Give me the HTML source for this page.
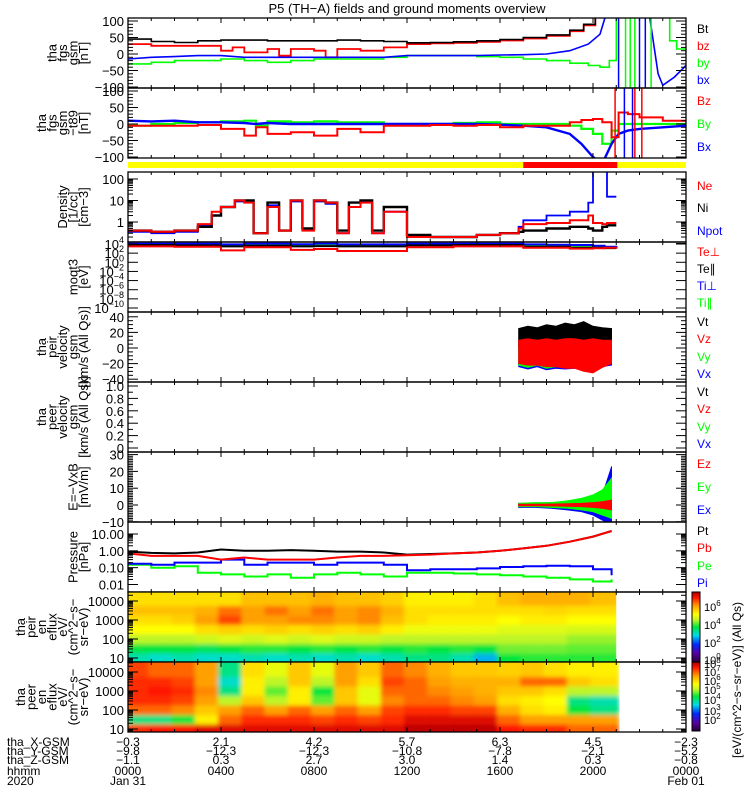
<!DOCTYPE html>
<html><head><meta charset="utf-8">
<style>
html,body{margin:0;padding:0;background:#fff;}
svg{display:block;font-family:"Liberation Sans",sans-serif;}
</style></head>
<body>
<svg id="chart" width="750" height="800" viewBox="0 0 750 800" xmlns="http://www.w3.org/2000/svg">
<defs>
<filter id="blur" x="0" y="0" width="1" height="1"><feGaussianBlur stdDeviation="2.2"/></filter>
</defs>
<text x="407" y="13" font-size="13" text-anchor="middle">P5 (TH−A) fields and ground moments overview</text>
</svg>
<script>
// ---------- data ----------
// panel 1: fgs gsm (nT)
const p1BtT = [0,1,2,3,4,5,6,7,8,9,10,11,12,13,14,15,16,17,18,19,19.6,20.1];
const p1Bt  = [45,38,35,40,42,42,40,40,40,42,40,38,34,35,37,40,44,50,58,72,90,130];
const p1BzT = [0,1,2,3,4,4.5,5,6,6.5,7,8,8.5,9,10,11,12,13,14,15,16,17,18,19,19.6,20.1];
const p1Bz  = [30,25,25,25,10,20,5,15,-5,15,10,-10,15,10,20,30,32,34,37,41,47,55,69,87,125];
const p1ByT = [0,1,2,3,4,5,6,7,8,9,10,11,12,13,14,15,16,17,18,19,19.8,20.3,20.7,21.0,22.9,23.3,23.6,24];
const p1By  = [-30,-25,-20,-20,-15,-20,-25,-20,-15,-15,-15,-10,-5,-5,-5,-8,-10,-15,-20,-28,-35,-40,-20,130,110,40,15,2];
const p1BxT = [0,1,2,3,4,5,6,7,8,9,10,11,12,13,14,15,16,17,18,19,19.8,20.3,20.6,21.6,22.4,22.8,23.0,23.5,24];
const p1Bx  = [-15,-10,-8,-5,-5,-10,-10,-10,-10,-10,-10,-10,-5,-5,-5,-5,-3,-2,0,10,30,60,130,130,130,-60,-95,-70,-35];
// panel 2: fgs gsm - t89 (nT)
const p2T  = [0,1,2,3,4,5,5.5,6,7,8,9,10,11,12,13,14,15,16,17,18,19,19.5,20,20.4,20.8,21.1,21.5,22,23,24];
const p2Bz = [-5,-5,-5,-3,-15,-35,-10,-30,-25,-35,-15,-25,-5,-5,-3,-5,-3,-10,-5,-5,5,12,15,5,-40,35,30,20,10,5];
const p2By = [-5,0,3,5,8,10,-5,8,5,8,5,5,0,0,0,3,5,0,0,0,-5,-15,-30,-60,-20,0,0,0,0,2];
const p2Bx = [10,8,10,5,5,3,0,3,0,0,0,0,0,0,0,0,0,-2,-5,-10,-30,-60,-100,-120,-60,-30,-20,-15,-10,-5];
// panel 3: density (1/cc)
const p3T  = [0,1,2,3,3.6,4,4.6,5,5.4,6,6.5,7,7.5,8,8.5,9,9.5,10,10.5,11,12,13,14,15,16,16.8,17,18,19,19.8,20,20.4,20.6,21];
const p3Ni = [0.4,0.35,0.4,0.6,2,5,10,10,0.3,8,0.4,10,0.5,10,8,0.4,8,10,0.4,5,0.25,0.2,0.2,0.25,0.3,0.35,0.4,0.5,0.6,0.5,0.4,0.6,0.7,0.7];
const p3Ne = [0.4,0.35,0.4,0.8,3,5,10,8,0.3,5,0.4,10,0.4,10,8,0.3,5,8,0.3,3,0.2,0.2,0.2,0.25,0.3,0.5,0.8,0.9,1.2,2,0.9,0.8,0.9,0.9];
const p3Np = [0.35,0.3,0.35,0.7,2,5,9,8,0.3,6,0.4,9,0.4,9,7,0.3,5,8,0.3,3,0.2,0.2,0.2,0.25,0.3,0.6,1.2,2,3,8,300,300,15,15];
// panel 4: temperatures (eV)
const p4T   = [0,2,4,5,7,8,9,11,12,14,16,17,18,19,20,20.5,21];
const p4Tep = [3000,2500,400,2000,500,800,300,300,2000,3000,3000,1500,1500,1000,1200,1500,1000];
const p4Tep2= [6000,5000,3000,4000,3000,3500,3000,3000,5000,6000,6000,2500,2500,1500,1500,1300,1000];
const p4Tip = [12000,12000,8000,12000,9000,12000,8000,8000,12000,12000,12000,8000,7000,6000,4000,2500,1500];
const p4Tip2= [9000,9000,6000,9000,7000,9000,6000,6000,9000,9000,9000,5000,5000,4000,3000,2000,1500];
// panel 5: velocity bands (km/s)
const p5T    = [16.8,17.2,17.6,18,18.4,18.8,19.2,19.6,20,20.4,20.8];
const p5VtHi = [25,28,26,30,28,32,30,34,28,26,25];
const p5VtLo = [0,0,0,0,0,0,0,0,0,0,0];
const p5VzHi = [10,12,10,12,10,12,12,10,12,10,10];
const p5VzLo = [-20,-22,-22,-24,-24,-26,-26,-30,-32,-25,-20];
const p5VyLo = [-22,-25,-22,-26,-24,-25,-24,-26,-24,-22,-20];
// panel 7: E field (mV/m)
const p7T    = [16.8,17.5,18.2,18.9,19.5,20.0,20.4,20.8];
const p7EyHi = [1,1.5,1.5,2.5,4,6,9,16];
const p7EyLo = [-1,-1,-1.5,-2,-3,-4,-6,-8];
const p7ExHi = [1,1,1.5,2,3,4,6,23];
const p7ExLo = [-1.5,-1.5,-2,-3,-4,-6,-9,-12];
const p7EzHi = [0.5,0.5,0.6,0.8,1,1.5,2,3];
const p7EzLo = [-0.5,-0.5,-0.6,-0.8,-1,-1.5,-2,-3];
// panel 8: pressure (nPa)
const p8T  = [0,1,2,3,4,5,6,7,8,9,10,11,12,13,14,15,16,17,18,19,20,20.8];
const p8Pt = [0.9,0.75,0.7,0.8,1.2,1.0,1.0,1.1,1.0,0.9,0.9,0.8,0.6,0.65,0.7,0.8,1.0,1.4,2,3.5,7,15];
const p8Pb = [0.7,0.5,0.5,0.5,0.3,0.4,0.3,0.3,0.3,0.4,0.5,0.5,0.55,0.6,0.7,0.8,1.0,1.4,2,3.5,7,15];
const p8Pi = [0.17,0.15,0.2,0.2,0.3,0.15,0.2,0.2,0.15,0.2,0.2,0.15,0.07,0.08,0.08,0.09,0.11,0.12,0.13,0.12,0.08,0.035];
const p8Pe = [0.15,0.1,0.12,0.05,0.04,0.03,0.04,0.025,0.04,0.05,0.04,0.03,0.05,0.05,0.045,0.04,0.035,0.03,0.025,0.02,0.015,0.02];
// spectrograms: energy rows (eV), hourly columns, normalized colour level 0..1
const specE = [10,30,100,300,1000,3000,10000];
const specIonT = [0,1,2,3,4,5,6,7,8,9,10,11,12,13,14,15,16,17,18,19,20];
const specIon = [
 [0.42,0.5,0.6,0.68,0.72,0.76,0.72],[0.4,0.5,0.6,0.68,0.72,0.76,0.72],[0.42,0.5,0.6,0.68,0.74,0.76,0.72],[0.4,0.48,0.62,0.72,0.8,0.78,0.72],
 [0.4,0.5,0.64,0.74,0.88,0.84,0.72],[0.42,0.52,0.62,0.72,0.8,0.8,0.76],[0.4,0.52,0.64,0.74,0.8,0.84,0.76],[0.42,0.5,0.62,0.72,0.82,0.8,0.76],
 [0.4,0.52,0.64,0.74,0.82,0.84,0.78],[0.42,0.5,0.62,0.72,0.8,0.8,0.76],[0.4,0.52,0.62,0.74,0.82,0.82,0.76],[0.42,0.5,0.6,0.7,0.76,0.78,0.74],
 [0.45,0.52,0.6,0.66,0.72,0.72,0.7],[0.45,0.5,0.6,0.66,0.7,0.72,0.7],[0.42,0.52,0.6,0.66,0.7,0.72,0.7],[0.35,0.5,0.6,0.66,0.7,0.72,0.72],
 [0.5,0.56,0.6,0.64,0.68,0.72,0.76],[0.52,0.56,0.6,0.64,0.7,0.72,0.78],[0.52,0.56,0.6,0.64,0.7,0.73,0.78],[0.52,0.55,0.58,0.63,0.68,0.72,0.78],[0.52,0.55,0.58,0.63,0.68,0.72,0.76]];
const specEleT = [0,1,2,3,4,5,6,7,8,9,10,11,12,13,14,15,16,17,18,19,20];
const specEle = [
 [0.9,0.45,0.85,0.9,0.9,0.9,0.88],[0.92,0.45,0.85,0.9,0.92,0.9,0.85],[0.92,0.5,0.82,0.88,0.9,0.88,0.85],[0.95,0.7,0.75,0.8,0.82,0.8,0.8],
 [0.95,0.85,0.8,0.6,0.45,0.4,0.45],[0.95,0.9,0.85,0.75,0.7,0.7,0.72],[0.95,0.9,0.8,0.6,0.55,0.6,0.65],[0.95,0.9,0.85,0.7,0.7,0.75,0.75],
 [0.95,0.88,0.8,0.55,0.5,0.6,0.65],[0.95,0.9,0.85,0.75,0.75,0.8,0.8],[0.95,0.88,0.8,0.65,0.65,0.72,0.75],[0.95,0.9,0.88,0.82,0.85,0.88,0.85],
 [0.98,0.95,0.9,0.85,0.85,0.85,0.82],[0.98,0.95,0.9,0.85,0.82,0.8,0.78],[0.98,0.95,0.88,0.82,0.8,0.78,0.75],[0.98,0.95,0.88,0.8,0.78,0.78,0.75],
 [0.92,0.85,0.78,0.72,0.75,0.78,0.74],[0.9,0.8,0.72,0.7,0.75,0.85,0.75],[0.9,0.8,0.7,0.68,0.72,0.85,0.72],[0.85,0.8,0.5,0.45,0.6,0.75,0.7],[0.85,0.8,0.45,0.42,0.6,0.72,0.7]];
// axis tick labels
const xTickHours = [0,4,8,12,16,20,24];
const xRowX = ["-0.3","2.1","4.2","5.7","6.3","4.5","-2.3"];
const xRowY = ["-9.8","-12.3","-12.3","-10.8","-7.8","-2.1","-5.2"];
const xRowZ = ["-1.1","0.3","2.7","3.0","1.4","0.3","-0.8"];
const xRowH = ["0000","0400","0800","1200","1600","2000","0000"];

// ---------- helpers ----------
const svg = document.getElementById('chart');
const NS = 'http://www.w3.org/2000/svg';
const X0 = 128, X1 = 686;
function xs(h){ return X0 + (X1 - X0) * h / 24; }
function mk(tag, attrs, parent){
  const e = document.createElementNS(NS, tag);
  for (const k in attrs) e.setAttribute(k, attrs[k]);
  (parent || svg).appendChild(e);
  return e;
}
function logs(top, bottom, lTop, lBot){ return v => top + (lTop - Math.log10(v)) / (lTop - lBot) * (bottom - top); }
let clipN = 0;
function clipFor(top, bottom){
  const id = 'c' + (clipN++);
  const cp = mk('clipPath', {id: id}, svg.querySelector('defs'));
  mk('rect', {x: X0, y: top, width: X1 - X0, height: bottom - top}, cp);
  return 'url(#' + id + ')';
}
function line(ts, vs, ys, color, clip, name, w, step){
  let d = '';
  ts.forEach((t, i) => {
    const x = xs(t).toFixed(1), y = ys(vs[i]).toFixed(1);
    if (!i) d += 'M' + x + ' ' + y;
    else if (step) d += 'H' + x + 'V' + y;
    else d += 'L' + x + ' ' + y;
  });
  const p = mk('path', {d: d, fill: 'none', stroke: color, 'stroke-width': w || 1.6, 'clip-path': clip});
  
  
  return p;
}
function band(ts, hi, lo, ys, color, clip, name){
  let d = '';
  ts.forEach((t, i) => { d += (i ? 'L' : 'M') + xs(t).toFixed(1) + ' ' + ys(hi[i]).toFixed(1); });
  for (let i = ts.length - 1; i >= 0; i--) d += 'L' + xs(ts[i]).toFixed(1) + ' ' + ys(lo[i]).toFixed(1);
  const p = mk('path', {d: d + 'Z', fill: color, stroke: color, 'stroke-width': 0.8, 'clip-path': clip});
  
  
}
function frame(top, bottom, name){
  const r = mk('rect', {x: X0, y: top, width: X1 - X0, height: bottom - top, fill: 'none', stroke: '#000', 'stroke-width': 1.3});
  
  
  for (let h = 1; h < 24; h++) {
    const len = (h % 4 === 0) ? 5 : 3;
    mk('line', {x1: xs(h), x2: xs(h), y1: top, y2: top + len, stroke: '#000'});
    mk('line', {x1: xs(h), x2: xs(h), y1: bottom, y2: bottom - len, stroke: '#000'});
  }
}
function ytick(y, label, major){
  const len = major ? 10 : 5;
  mk('line', {x1: X0, x2: X0 + len, y1: y, y2: y, stroke: '#000'});
  mk('line', {x1: X1, x2: X1 - len, y1: y, y2: y, stroke: '#000'});
  if (label !== null && label !== undefined) {
    const t = mk('text', {x: X0 - 4, y: y + 5, 'font-size': 13, 'text-anchor': 'end'});
    
    
    t.innerHTML = label;
  }
}
function linTicks(ys, lo, hi, step, minor){
  for (let v = lo; v <= hi + 1e-9; v += minor) {
    const isMaj = Math.abs(Math.round(v / step) * step - v) < 1e-6;
    ytick(ys(v), isMaj ? (Math.abs(v) < 1e-9 ? '0' : (step < 1 ? v.toFixed(1) : String(Math.round(v))).replace('-', '−')) : null, isMaj);
  }
}
function logTicks(ys, dLo, dHi, labels){
  for (let d = dLo; d <= dHi; d++) {
    ytick(ys(Math.pow(10, d)), labels ? labels(d) : null, true);
    for (let m = 2; m <= 9 && d < dHi; m++) ytick(ys(m * Math.pow(10, d)), null, false);
  }
}
function leftLabel(lines, top, bottom, name){
  const g = mk('g', {});
  
  
  const cy = (top + bottom) / 2, n = lines.length;
  lines.forEach((s, i) => {
    const bx = 88 - (n - 1 - i) * 10.5;
    const t = mk('text', {x: 0, y: 0, 'font-size': 13, 'text-anchor': 'middle', transform: 'translate(' + bx + ',' + cy + ') rotate(-90)'}, g);
    t.textContent = s;
  });
}
function legend(items){
  items.forEach(it => {
    const t = mk('text', {x: 697, y: it[2] + 5, 'font-size': 12, fill: it[1]});
    
    
    t.textContent = it[0];
  });
}
const R = '#ff0000', G = '#00ff00', B = '#0000ff', K = '#000000';

// ---------- panel 1 ----------
{
  const top = 18, bot = 88, ys = v => 54 - v * 0.33, c = clipFor(top, bot);
  line(p1BzT, p1Bz, ys, R, c, 'series-bz', 1.8, true);
  line(p1BtT, p1Bt, ys, K, c, 'series-bt', 1.6, true);
  line(p1ByT, p1By, ys, G, c, 'series-by', 1.6, true);
  line(p1BxT, p1Bx, ys, B, c, 'series-bx', 1.6);
  [[21.4,G],[21.6,G],[21.8,G],[21.1,B],[22.0,B],[22.25,B],[22.5,G]].forEach(s => {
    const l = mk('line', {x1: xs(s[0]), x2: xs(s[0]), y1: top, y2: bot, stroke: s[1], 'stroke-width': 1.5});
     
  });
  frame(top, bot, 'panel-fgs-gsm');
  linTicks(ys, -100, 100, 50, 10);
  leftLabel(['tha','fgs','gsm','[nT]'], top, bot, 'y-axis-title-fgs');
  legend([['Bt',K,28],['bz',R,45],['by',G,62],['bx',B,79]]);
}
// ---------- panel 2 ----------
{
  const top = 88, bot = 158, ys = v => 124 - v * 0.33, c = clipFor(top, bot);
  line(p2T, p2By, ys, G, c, 'series-by-t89', 2.2, true);
  line(p2T, p2Bx, ys, B, c, 'series-bx-t89', 2.4);
  line(p2T, p2Bz, ys, R, c, 'series-bz-t89', 2, true);
  [[20.95,R],[21.35,B],[21.7,B],[21.8,R],[22.1,R]].forEach(s => {
    const l = mk('line', {x1: xs(s[0]), x2: xs(s[0]), y1: top, y2: bot, stroke: s[1], 'stroke-width': 1.5});
     
  });
  frame(top, bot, 'panel-fgs-t89');
  linTicks(ys, -100, 100, 50, 10);
  leftLabel(['tha','fgs','gsm','−t89','[nT]'], top, bot, 'y-axis-title-t89');
  legend([['Bz',R,100],['By',G,123],['Bx',B,146]]);
}
// ---------- mode bar ----------
{
  const b1 = mk('rect', {x: X0, y: 162, width: xs(17) - X0, height: 6, fill: '#ffff00'});
   
  const b2 = mk('rect', {x: xs(17), y: 162, width: xs(21.05) - xs(17), height: 6, fill: '#ff0000'});
   
  const b3 = mk('rect', {x: xs(21.05), y: 162, width: X1 - xs(21.05), height: 6, fill: '#ffff00'});
   
}
// ---------- panel 3 ----------
{
  const top = 172, bot = 242, ys = logs(179, 243.5, 2, -1), c = clipFor(top, bot);
  line(p3T, p3Np, ys, B, c, 'series-npot', 1.8, true);
  line(p3T, p3Ni, ys, K, c, 'series-ni', 2.4, true);
  line(p3T, p3Ne, ys, R, c, 'series-ne', 2, true);
  frame(top, bot, 'panel-density');
  logTicks(ys, -1, 2, d => d >= 0 ? String(Math.pow(10, d)) : null);
  leftLabel(['Density','[1/cc]','[cm−3]'], top, bot, 'y-axis-title-density');
  legend([['Ne',R,185],['Ni',K,207],['Npot',B,230]]);
}
// ---------- panel 4 ----------
{
  const top = 242, bot = 312, ys = logs(244, 308, 4, -10), c = clipFor(top, bot);
  line(p4T, p4Tip2, ys, G, c, 'series-ti-par', 2, true);
  line(p4T, p4Tip, ys, B, c, 'series-ti-perp', 2, true);
  line(p4T, p4Tep2, ys, K, c, 'series-te-par', 2, true);
  line(p4T, p4Tep, ys, R, c, 'series-te-perp', 2, true);
  frame(top, bot, 'panel-temperature');
  for (let d = -10; d <= 4; d += 2) ytick(ys(Math.pow(10, d)), '10<tspan font-size="9" dy="-6">' + String(d).replace('-', '−') + '</tspan>', true);
  leftLabel(['moqt3','[eV]'], top, bot, 'y-axis-title-temp');
  legend([['Te⊥',R,251],['Te∥',K,268],['Ti⊥',B,285],['Ti∥',G,302]]);
}
// ---------- panel 5 ----------
{
  const top = 312, bot = 382, ys = v => 348 - v * 0.78, c = clipFor(top, bot);
  band(p5T, p5VzHi, p5VyLo.map(v => v - 2), ys, B, c, 'series-vx-band');
  band(p5T, p5VzHi, p5VyLo, ys, G, c, 'series-vy-band');
  band(p5T, p5VtHi, p5VtLo, ys, K, c, 'series-vt-band');
  band(p5T, p5VzHi, p5VzLo, ys, R, c, 'series-vz-band');
  frame(top, bot, 'panel-ion-velocity');
  linTicks(ys, -40, 40, 20, 5);
  leftLabel(['tha','peir','velocity','gsm','[km/s (All Qs)]'], top, bot, 'y-axis-title-ion-velocity');
  legend([['Vt',K,321],['Vz',R,338],['Vy',G,356],['Vx',B,373]]);
}
// ---------- panel 6 ----------
{
  const top = 382, bot = 452, ys = v => 448 - v * 62;
  frame(top, bot, 'panel-electron-velocity');
  linTicks(ys, 0, 1.0, 0.2, 0.1);
  leftLabel(['tha','peer','velocity','gsm','[km/s (All Qs)]'], top, bot, 'y-axis-title-electron-velocity');
  legend([['Vt',K,391],['Vz',R,408],['Vy',G,426],['Vx',B,443]]);
}
// ---------- panel 7 ----------
{
  const top = 452, bot = 522, ys = v => 505 - v * 1.68, c = clipFor(top, bot);
  band(p7T, p7ExHi, p7ExLo, ys, B, c, 'series-ex-band');
  band(p7T, p7EyHi, p7EyLo, ys, G, c, 'series-ey-band');
  band(p7T, p7EzHi, p7EzLo, ys, R, c, 'series-ez-band');
  frame(top, bot, 'panel-efield');
  linTicks(ys, -10, 30, 10, 1);
  leftLabel(['E=−VxB','[mV/m]'], top, bot, 'y-axis-title-efield');
  legend([['Ez',R,463],['Ey',G,486],['Ex',B,509]]);
}
// ---------- panel 8 ----------
{
  const top = 522, bot = 592, ys = logs(534, 584.5, 1, -2), c = clipFor(top, bot);
  line(p8T, p8Pe, ys, G, c, 'series-pe', 2, true);
  line(p8T, p8Pi, ys, B, c, 'series-pi', 2, true);
  line(p8T, p8Pt, ys, K, c, 'series-pt', 2);
  line(p8T, p8Pb, ys, R, c, 'series-pb', 2);
  frame(top, bot, 'panel-pressure');
  logTicks(ys, -2, 1, d => Math.pow(10, d).toFixed(2));
  leftLabel(['Pressure','[nPa]'], top, bot, 'y-axis-title-pressure');
  legend([['Pt',K,530],['Pb',R,547],['Pe',G,565],['Pi',B,582]]);
}
// ---------- spectrograms ----------
const cstops = [[0,[40,0,60]],[0.12,[90,0,160]],[0.25,[0,40,255]],[0.38,[0,220,230]],[0.5,[0,230,60]],[0.6,[190,245,40]],[0.68,[255,255,0]],[0.8,[255,160,0]],[0.92,[255,20,0]],[1,[170,0,0]]];
function cmap(v){
  v = Math.max(0, Math.min(1, v));
  for (let i = 1; i < cstops.length; i++) if (v <= cstops[i][0]) {
    const a = cstops[i-1], b = cstops[i], f = (v - a[0]) / (b[0] - a[0]);
    return 'rgb(' + a[1].map((c, k) => Math.round(c + (b[1][k] - c) * f)).join(',') + ')';
  }
  return 'rgb(170,0,0)';
}
function spectro(times, vals, top, bot, y10, y10k, name, tEnd){
  const ys = v => y10 - (Math.log10(v) - 1) * (y10 - y10k) / 3;
  const g = mk('g', {});
  
  
  const lim = mk('clipPath', {id: name + '-lim'}, svg.querySelector('defs'));
  mk('rect', {x: X0, y: top, width: xs(tEnd) - X0, height: bot - top}, lim);
  g.setAttribute('clip-path', 'url(#' + name + '-lim)');
  const inner = mk('g', {filter: 'url(#blur)'}, g);
  times.forEach((t, i) => {
    vals[i].forEach((v, j) => {
      const e = specE[j];
      const eHi = j < specE.length - 1 ? Math.sqrt(e * specE[j+1]) : 1e6;
      const eLo = j > 0 ? Math.sqrt(e * specE[j-1]) : 1;
      const x1 = xs(t) - 3, x2 = xs(t + 1) + 3;
      const cell = mk('rect', {x: x1, y: ys(eHi), width: x2 - x1, height: ys(eLo) - ys(eHi), fill: cmap(v)}, inner);
      
      
    });
  });
  frame(top, bot, name + '-frame');
  for (let d = 1; d <= 4; d++) {
    ytick(ys(Math.pow(10, d)), String(Math.pow(10, d)), true);
    for (let m = 2; m <= 9 && d < 4; m++) ytick(ys(m * Math.pow(10, d)), null, false);
  }
  for (let m = 5; m <= 9; m++) if (ys(m) < bot) ytick(ys(m), null, false);
  ytick(ys(20000), null, false); ytick(ys(30000), null, false);
}
spectro(specIonT, specIon, 592, 662, 658, 601, 'spectrogram-ion', 21.0);
leftLabel(['tha','peir','en','eflux','eV/','(cm^2−s−','sr−eV)'], 592, 662, 'y-axis-title-ion-spec');
spectro(specEleT, specEle, 662, 732, 729, 672, 'spectrogram-electron', 21.2);
leftLabel(['tha','peer','en','eflux','eV/','(cm^2−s−','sr−eV)'], 662, 732, 'y-axis-title-electron-spec');

// ---------- colour bars ----------
{
  const lg = mk('linearGradient', {id: 'cbg', x1: 0, y1: 1, x2: 0, y2: 0}, svg.querySelector('defs'));
  cstops.forEach(s => mk('stop', {offset: s[0], 'stop-color': 'rgb(' + s[1].join(',') + ')'}, lg));
  const c1 = mk('rect', {x: 692, y: 592, width: 8, height: 70, fill: 'url(#cbg)', stroke: '#000'});
   
  const c2 = mk('rect', {x: 692, y: 662, width: 8, height: 69, fill: 'url(#cbg)', stroke: '#000'});
   
  [[6,607],[4,625],[2,643],[0,660],[8,664],[7,672],[6,681],[5,690],[4,700],[3,711],[2,720]].forEach(p => {
    const t = mk('text', {x: 704, y: p[1] + 4, 'font-size': 11});
     
    t.innerHTML = '10<tspan font-size="8" dy="-5">' + p[0] + '</tspan>';
  });
  const ct = mk('text', {x: 0, y: 0, 'font-size': 12, 'text-anchor': 'middle', transform: 'translate(741,680) rotate(-90)'});
   
  ct.textContent = '[eV/(cm^2−s−sr−eV)]  (All Qs)';
}
// ---------- x axis annotation ----------
{
  const rows = [['tha_X-GSM', xRowX, 746], ['tha_Y-GSM', xRowY, 755], ['tha_Z-GSM', xRowZ, 764], ['hhmm', xRowH, 775]];
  rows.forEach(r => {
    const l = mk('text', {x: 7, y: r[2], 'font-size': 12});
     
    l.textContent = r[0];
    xTickHours.forEach((h, i) => {
      const t = mk('text', {x: xs(h), y: r[2], 'font-size': 12, 'text-anchor': 'middle'});
       
      t.textContent = r[1][i].replace('-', '−');
    });
  });
  const y = mk('text', {x: 7, y: 785, 'font-size': 12});
   
  y.textContent = '2020';
  const d1 = mk('text', {x: xs(0), y: 785, 'font-size': 12, 'text-anchor': 'middle'});
   
  d1.textContent = 'Jan 31';
  const d2 = mk('text', {x: xs(24), y: 785, 'font-size': 12, 'text-anchor': 'middle'});
   
  d2.textContent = 'Feb 01';
}
</script>
</body></html>
